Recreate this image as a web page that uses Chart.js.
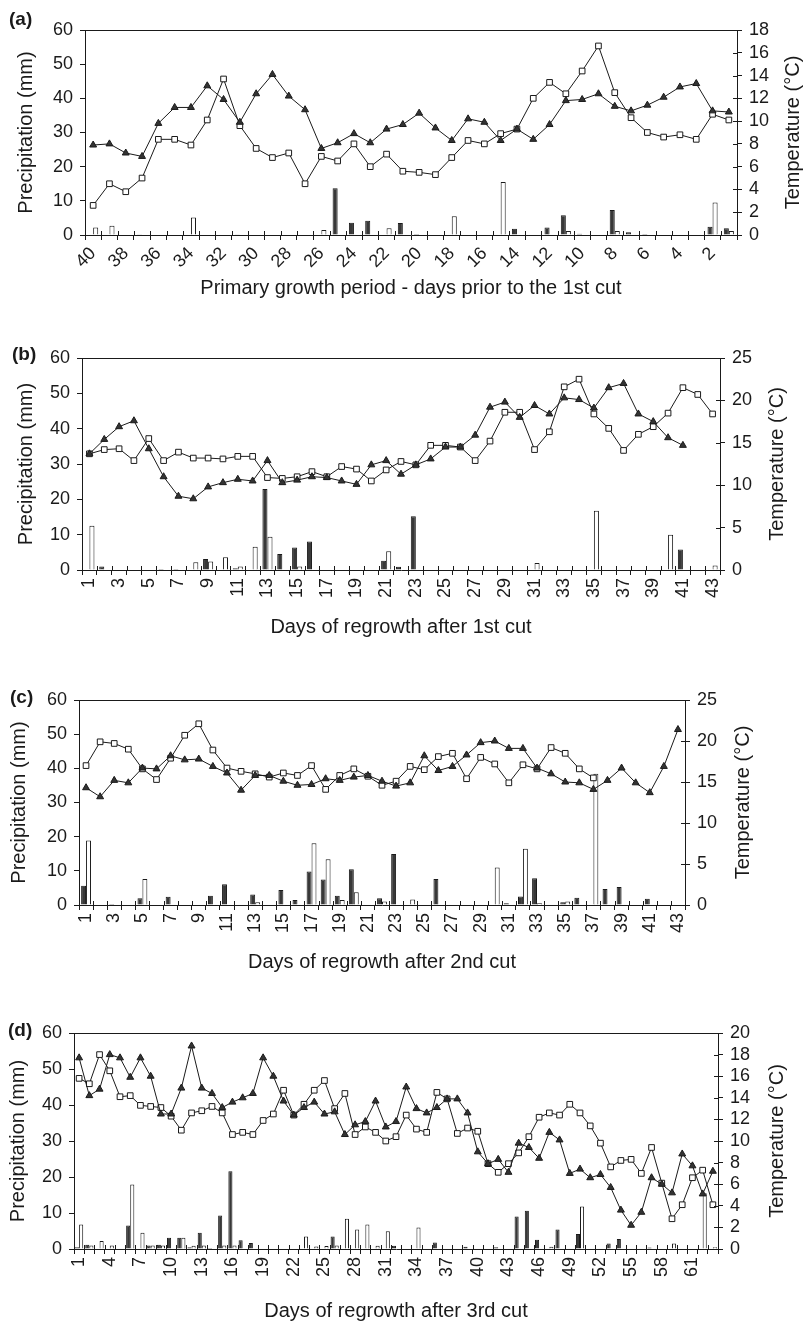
<!DOCTYPE html>
<html>
<head>
<meta charset="utf-8">
<script src="https://cdn.jsdelivr.net/npm/chart.js@4.4.1/dist/chart.umd.min.js"></script>
<style>
  body { margin: 0; background: #fff; width: 804px; height: 1323px; position: relative; overflow: hidden;
         font-family: "Liberation Sans", Arial, sans-serif; }
  canvas { position: absolute; left: 0; }
  .tag { position: absolute; font-weight: bold; font-size: 19px; line-height: 20px; color: #1a1a1a; }
</style>
</head>
<body>
<canvas id="ca" width="804" height="330" style="top:0"></canvas>
<canvas id="cb" width="804" height="330" style="top:330px"></canvas>
<canvas id="cc" width="804" height="330" style="top:660px"></canvas>
<canvas id="cd" width="804" height="333" style="top:990px"></canvas>
<div class="tag" style="left:9px;top:9px">(a)</div>
<div class="tag" style="left:12px;top:344px">(b)</div>
<div class="tag" style="left:10px;top:687px">(c)</div>
<div class="tag" style="left:8px;top:1020px">(d)</div>
<script>
// (a) primary growth, days before 1st cut
const daysA = ['40','39','38','37','36','35','34','33','32','31','30','29','28','27','26','25','24','23','22','21',
               '20','19','18','17','16','15','14','13','12','11','10','9','8','7','6','5','4','3','2','1'];
const tempSqA = [2.6, 4.5, 3.8, 5.0, 8.4, 8.4, 7.9, 10.1, 13.7, 9.6, 7.6, 6.8, 7.2, 4.5, 6.9, 6.5, 8.0, 6.0, 7.1, 5.6,
                 5.5, 5.3, 6.8, 8.3, 8.0, 8.9, 9.3, 12.0, 13.4, 12.4, 14.4, 16.6, 12.5, 10.3, 9.0, 8.6, 8.8, 8.4, 10.6, 10.1];
const tempTriA = [7.9, 8.0, 7.2, 6.9, 9.8, 11.2, 11.2, 13.1, 11.9, 9.9, 12.4, 14.1, 12.2, 11.0, 7.6, 8.1, 8.9, 8.1, 9.3, 9.7,
                  10.7, 9.4, 8.3, 10.2, 9.9, 8.3, 9.3, 8.4, 9.7, 11.8, 11.9, 12.4, 11.3, 10.9, 11.4, 12.1, 13.0, 13.3, 10.9, 10.8];
const rainFilledA = [0, 0, 0, 0.2, 0, 0, 0, 0, 0, 0.2, 0, 0, 0, 0, 0, 13.7, 3.6, 4.2, 0, 3.5,
                     0.3, 0, 0, 0, 0, 0, 1.8, 0, 2.2, 5.8, 0.4, 0, 7.3, 0.8, 0.3, 0, 0, 0, 2.4, 2.0];
const rainOpenA = [2.2, 2.7, 0, 0, 0, 0, 5.1, 0, 0, 0, 0, 0, 0, 0, 1.5, 0, 0, 0, 2.0, 0,
                   0, 0, 5.5, 0, 0, 15.5, 0, 0, 0, 1.2, 0, 0, 1.2, 0, 0, 0, 0, 0, 9.5, 1.2];

// (b) regrowth after 1st cut
const daysB = ['1','2','3','4','5','6','7','8','9','10','11','12','13','14','15','16','17','18','19','20','21','22',
               '23','24','25','26','27','28','29','30','31','32','33','34','35','36','37','38','39','40','41','42','43'];
const tempSqB = [13.7, 14.2, 14.3, 12.9, 15.5, 12.9, 13.9, 13.2, 13.2, 13.1, 13.4, 13.4, 10.9, 10.8, 11.0, 11.6, 11.0, 12.2, 11.9, 10.5,
                 11.8, 12.8, 12.4, 14.7, 14.7, 14.5, 12.9, 15.2, 18.6, 18.6, 14.2, 16.3, 21.6, 22.5, 18.4, 16.7, 14.1, 16.0, 16.9, 18.5,
                 21.5, 20.7, 18.4];
const tempTriB = [13.7, 15.4, 16.9, 17.6, 14.3, 11.0, 8.7, 8.4, 9.8, 10.3, 10.7, 10.5, 12.9, 10.3, 10.6, 11.0, 10.9, 10.5, 10.1, 12.4,
                  12.9, 11.3, 12.4, 13.1, 14.5, 14.5, 15.9, 19.2, 19.8, 18.0, 19.4, 18.4, 20.3, 20.1, 19.1, 21.5, 22.0, 18.4, 17.5, 15.6,
                  14.7, null, null];
const rainFilledB = [0, 1.0, 0, 0, 0, 0.3, 0.3, 0, 3.1, 0, 0.5, 0, 22.9, 4.5, 6.4, 8.1, 0, 0, 0, 0,
                     2.6, 0.9, 15.2, 0, 0, 0, 0, 0, 0, 0, 0, 0, 0, 0, 0, 0, 0, 0, 0, 0, 5.8, 0, 0];
const rainOpenB = [12.5, 0, 0, 0, 0, 0, 0, 2.2, 2.4, 3.6, 1.0, 6.6, 9.4, 0, 1.0, 0, 0, 0, 0, 0,
                   5.3, 0, 0, 0, 0, 0, 0, 0, 0, 0, 2.0, 0, 0, 0, 16.8, 0, 0, 0, 0, 10.0, 0, 0, 1.3];

// (c) regrowth after 2nd cut
const daysC = daysB.slice();
const tempSqC = [17.0, 19.9, 19.7, 19.0, 16.6, 15.3, 17.9, 20.7, 22.1, 18.9, 16.7, 16.3, 16.0, 15.6, 16.1, 15.8, 17.0, 14.1, 15.8, 16.6,
                 15.7, 14.6, 15.1, 16.9, 16.5, 18.1, 18.5, 15.4, 18.0, 17.2, 14.9, 17.1, 16.6, 19.2, 18.5, 16.6, 15.5, null, null, null,
                 null, null, null];
const tempTriC = [14.3, 13.2, 15.2, 14.9, 16.7, 16.6, 18.2, 17.7, 17.8, 16.9, 16.1, 14.0, 15.8, 15.8, 15.1, 14.6, 14.7, 15.4, 15.2, 15.6,
                  15.8, 15.1, 14.5, 14.9, 18.2, 16.4, 16.9, 18.3, 19.8, 20.0, 19.1, 19.1, 16.7, 16.0, 15.0, 14.9, 14.1, 15.2, 16.7, 14.9,
                  13.7, 16.9, 21.4];
const rainFilledC = [5.6, 0, 0.3, 0, 2.0, 0, 2.4, 0, 0, 2.7, 6.1, 0, 3.1, 0, 4.4, 1.5, 9.8, 7.5, 2.7, 10.5,
                     0, 2.0, 14.9, 0, 0, 7.6, 0, 0, 0, 0, 0.5, 2.5, 7.8, 0, 0.8, 2.1, 0, 4.7, 5.3, 0, 1.8, 0, 0];
const rainOpenC = [18.9, 0, 0, 0, 7.6, 0, 0, 0, 0, 0, 0, 0, 0.8, 0, 0, 0, 18.1, 13.4, 1.5, 3.7,
                   0, 1.0, 0, 1.6, 0, 0, 0, 0, 0, 11.0, 0, 16.5, 0.5, 0, 1.0, 0, 38.4, 0, 0, 0, 0, 0, 0];

// (d) regrowth after 3rd cut
const daysD = ['1','2','3','4','5','6','7','8','9','10','11','12','13','14','15','16','17','18','19','20','21',
               '22','23','24','25','26','27','28','29','30','31','32','33','34','35','36','37','38','39','40','41','42',
               '43','44','45','46','47','48','49','50','51','52','53','54','55','56','57','58','59','60','61','62','63'];
const tempSqD = [15.8, 15.3, 18.0, 16.5, 14.1, 14.2, 13.3, 13.2, 13.1, 12.3, 11.0, 12.6, 12.8, 13.2, 12.6, 10.6, 10.8, 10.6, 11.9, 12.5,
                 14.7, 12.4, 13.4, 14.7, 15.6, 13.0, 14.4, 10.6, 11.3, 10.8, 10.0, 10.4, 12.4, 11.1, 10.8, 14.5, 13.9, 10.7, 11.2, 10.9,
                 7.9, 7.1, 7.9, 8.9, 10.4, 12.2, 12.6, 12.4, 13.4, 12.6, 11.4, 9.8, 7.6, 8.2, 8.3, 7.0, 9.4, 6.1, 2.8, 4.1,
                 6.6, 7.3, 4.1];
const tempTriD = [17.7, 14.2, 14.8, 18.0, 17.7, 15.9, 17.7, 16.0, 12.5, 12.5, 14.9, 18.8, 14.9, 14.4, 13.1, 13.6, 14.0, 14.4, 17.7, 16.0,
                  13.7, 12.4, 13.1, 13.6, 12.5, 12.7, 10.6, 11.5, 11.8, 13.7, 11.3, 11.8, 15.0, 13.0, 12.6, 13.1, 13.9, 13.9, 12.6, 9.0,
                  7.9, 8.3, 7.1, 9.8, 9.4, 8.4, 10.8, 10.1, 7.0, 7.4, 6.6, 6.9, 5.7, 3.6, 2.2, 3.4, 6.6, 6.0, 5.2, 8.8,
                  7.7, 5.1, 7.2];
const rainFilledD = [0.5, 1.2, 0, 0, 0, 6.5, 0, 1.0, 1.2, 3.1, 3.1, 0.5, 4.5, 0.3, 9.3, 21.6, 2.4, 1.7, 0, 0,
                     0, 0, 0, 0, 0, 3.5, 0, 0, 0, 0, 0, 0.9, 0, 0, 0, 1.8, 0, 0, 0.6, 0,
                     0, 0.5, 0, 9.0, 10.6, 2.6, 0, 5.4, 0, 4.2, 0, 0, 1.5, 2.8, 0, 0, 0.4, 0, 0, 0,
                     0, 0, 0];
const rainOpenD = [6.8, 1.0, 2.2, 1.0, 0, 17.9, 4.5, 1.0, 1.0, 0, 3.1, 0.9, 1.0, 0, 1.0, 1.0, 0, 0, 0, 0,
                   0, 0, 3.5, 0.7, 0.8, 1.0, 8.4, 5.4, 6.8, 0.9, 4.9, 0, 0, 6.0, 0, 0, 0, 0, 0, 0,
                   0, 0, 0, 0, 0, 0, 0.6, 0, 0, 11.8, 0, 0, 0, 0, 0, 0, 0, 0, 1.5, 0,
                   0, 15.5, 0.5];

Chart.defaults.font.family = '"Liberation Sans", Arial, sans-serif';
Chart.defaults.color = '#1a1a1a';

const INK = '#1a1a1a';
const tickFont = { size: 18 };
const titleFont = { size: 20 };

// top frame line, inner tick halves and the right-hand title (reads upwards)
const frame = {
  id: 'frame',
  afterDraw(chart, args, opts) {
    const { ctx, chartArea: a } = chart;
    const y1 = chart.scales.y1;
    const n = chart.data.labels.length;
    const step = (a.right - a.left) / n;
    ctx.save();
    ctx.strokeStyle = INK;
    ctx.lineWidth = 1;
    ctx.beginPath();
    ctx.moveTo(a.left, Math.round(a.top) + 0.5);
    ctx.lineTo(a.right, Math.round(a.top) + 0.5);
    for (let i = 1; i < n; i++) {
      const px = Math.round(a.left + i * step) + 0.5;
      ctx.moveTo(px, a.bottom);
      ctx.lineTo(px, a.bottom - 4);
    }
    y1.ticks.forEach(t => {
      const py = Math.round(y1.getPixelForValue(t.value)) + 0.5;
      ctx.moveTo(a.right - 4, py);
      ctx.lineTo(a.right, py);
    });
    ctx.stroke();
    ctx.translate(opts.titleX, (a.top + a.bottom) / 2);
    ctx.rotate(-Math.PI / 2);
    ctx.font = '20px "Liberation Sans", Arial, sans-serif';
    ctx.fillStyle = INK;
    ctx.textAlign = 'center';
    ctx.textBaseline = 'middle';
    ctx.fillText('Temperature (°C)', 0, 0);
    ctx.restore();
  }
};

function makePanel(p) {
  const W = 804;
  return new Chart(document.getElementById(p.id), {
    type: 'bar',
    data: {
      labels: p.labels,
      datasets: [
        { type: 'line', data: p.tri, yAxisID: 'y1', borderColor: INK, borderWidth: 1, tension: 0,
          pointStyle: 'triangle', pointRadius: 4, pointBackgroundColor: '#333', pointBorderColor: INK, pointBorderWidth: 1 },
        { type: 'line', data: p.sq, yAxisID: 'y1', borderColor: INK, borderWidth: 1, tension: 0,
          pointStyle: 'rect', pointRadius: 4, pointBackgroundColor: '#fff', pointBorderColor: INK, pointBorderWidth: 1 },
        { type: 'bar', data: p.wet, yAxisID: 'y', backgroundColor: '#383838', borderColor: INK, borderWidth: 1,
          barPercentage: 1, categoryPercentage: p.cat },
        { type: 'bar', data: p.dry, yAxisID: 'y', backgroundColor: '#fff', borderColor: INK, borderWidth: 1,
          barPercentage: 1, categoryPercentage: p.cat }
      ]
    },
    options: {
      responsive: false,
      animation: false,
      devicePixelRatio: 1,
      layout: { padding: { top: p.top, left: 0, right: 0, bottom: 0 } },
      plugins: { legend: { display: false }, tooltip: { enabled: false }, frame: { titleX: p.rTitleX } },
      scales: {
        x: {
          offset: true,
          grid: { offset: true, drawOnChartArea: false, tickLength: 5, color: INK },
          border: { color: INK },
          ticks: { autoSkip: false, minRotation: p.rot, maxRotation: p.rot, padding: 3, font: tickFont, color: INK,
                   callback: (v, i) => (i % p.every === 0 ? p.labels[i] : '') },
          title: { display: true, text: p.xTitle, font: titleFont, color: INK, padding: { top: 0, bottom: p.xPad } },
          afterFit: s => { s.height = p.xH; }
        },
        y: {
          position: 'left', min: 0, max: 60,
          grid: { drawOnChartArea: false, tickLength: 5, color: INK },
          border: { color: INK },
          ticks: { stepSize: 10, autoSkip: false, padding: 7, font: tickFont, color: INK },
          title: { display: true, text: 'Precipitation (mm)', font: titleFont, color: INK, padding: { top: p.yPad, bottom: 0 } },
          afterFit: s => { s.width = p.left; }
        },
        y1: {
          position: 'right', min: 0, max: p.tMax,
          grid: { drawOnChartArea: false, tickLength: 5, color: INK },
          border: { color: INK },
          ticks: { stepSize: p.tStep, autoSkip: false, padding: 7, font: tickFont, color: INK },
          afterFit: s => { s.width = W - p.right; }
        }
      }
    },
    plugins: [frame]
  });
}

makePanel({ id: 'ca', labels: daysA, tri: tempTriA, sq: tempSqA, wet: rainFilledA, dry: rainOpenA,
  tMax: 18, tStep: 2, every: 2, rot: 45, cat: 0.62, top: 30, left: 85, right: 737, xH: 95, xPad: 30, yPad: 14,
  rTitleX: 793, xTitle: 'Primary growth period - days prior to the 1st cut' });
makePanel({ id: 'cb', labels: daysB, tri: tempTriB, sq: tempSqB, wet: rainFilledB, dry: rainOpenB,
  tMax: 25, tStep: 5, every: 2, rot: 90, cat: 0.68, top: 28, left: 82, right: 720, xH: 90, xPad: 21, yPad: 14,
  rTitleX: 777, xTitle: 'Days of regrowth after 1st cut' });
makePanel({ id: 'cc', labels: daysC, tri: tempTriC, sq: tempSqC, wet: rainFilledC, dry: rainOpenC,
  tMax: 25, tStep: 5, every: 2, rot: 90, cat: 0.7, top: 40, left: 79, right: 685, xH: 85, xPad: 16, yPad: 7,
  rTitleX: 743, xTitle: 'Days of regrowth after 2nd cut' });
makePanel({ id: 'cd', labels: daysD, tri: tempTriD, sq: tempSqD, wet: rainFilledD, dry: rainOpenD,
  tMax: 20, tStep: 2, every: 3, rot: 90, cat: 0.8, top: 43, left: 74, right: 718, xH: 74, xPad: 0, yPad: 6,
  rTitleX: 777, xTitle: 'Days of regrowth after 3rd cut' });
</script>
</body>
</html>
